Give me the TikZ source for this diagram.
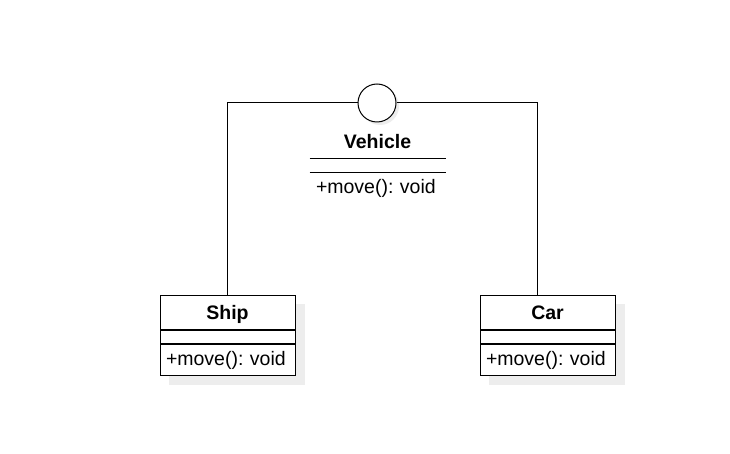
\documentclass[tikz,border=0pt]{standalone}
\usepackage{fontspec}
\setmainfont{Liberation Sans}
\frenchspacing
\usetikzlibrary{backgrounds}

\tikzset{
  classhead/.style={rectangle, draw, line width=1bp, minimum width=135bp, minimum height=34bp, inner sep=0pt, text height=16bp, text depth=2bp, fill=white, font=\fontsize{19.5bp}{23bp}\selectfont\bfseries},
  classattr/.style={rectangle, draw, line width=1bp, minimum width=135bp, minimum height=13bp, inner sep=0pt, fill=white},
  classop/.style={rectangle, draw, line width=1bp, minimum width=135bp, minimum height=31bp, inner xsep=6bp, inner ysep=0pt, text width=123bp, text height=14bp, text depth=4bp, align=left, fill=white, font=\fontsize{19.5bp}{23bp}\selectfont},
  boxshadow/.style={fill=black!7},
  link/.style={line width=1bp}
}

\begin{document}
\begin{tikzpicture}[x=1bp, y=-1bp]
    \useasboundingbox (0,0) rectangle (730,454);

    % Interface Vehicle
    \node[circle, draw, line width=1bp, minimum size=38bp, inner sep=0pt, fill=white] (iface) at (377,103) {};
    \node[classhead, draw=none, fill=none, anchor=north] (vehiclehead) at (377.5,124) {Vehicle};
    \node[classattr, draw=none, fill=none, anchor=north] (vehicleattr) at (vehiclehead.south) {};
    \node[classop, draw=none, fill=none, anchor=north] (vehicleop) at (vehicleattr.south) {+move(): void};
    \draw[link] (vehiclehead.south west) -- (vehiclehead.south east);
    \draw[link] (vehicleattr.south west) -- (vehicleattr.south east);

    % Klasse Ship
    \node[classhead, anchor=north] (shiphead) at (227.5,295) {Ship};
    \node[classattr, anchor=north] (shipattr) at (shiphead.south) {};
    \node[classop, anchor=north] (shipop) at (shipattr.south) {+move(): void};

    % Klasse Car
    \node[classhead, anchor=north] (carhead) at (547.5,295) {Car};
    \node[classattr, anchor=north] (carattr) at (carhead.south) {};
    \node[classop, anchor=north] (carop) at (carattr.south) {+move(): void};
    \coordinate (carjoin) at ([xshift=-10bp]carhead.north);

    % Schatten
    \begin{scope}[on background layer]
        \fill[white] (0,0) rectangle (730,454);
        \fill[boxshadow] ([shift={(3,3)}]iface.center) circle (19bp);
        \fill[boxshadow] ([shift={(9,9)}]shiphead.north west) rectangle ([shift={(9,9)}]shipop.south east);
        \fill[boxshadow] ([shift={(9,9)}]carhead.north west) rectangle ([shift={(9,9)}]carop.south east);
    \end{scope}

    % Realisierung
    \draw[link] (iface.west) -| (shiphead.north);
    \draw[link] (iface.east) -| (carjoin);
\end{tikzpicture}
\end{document}
